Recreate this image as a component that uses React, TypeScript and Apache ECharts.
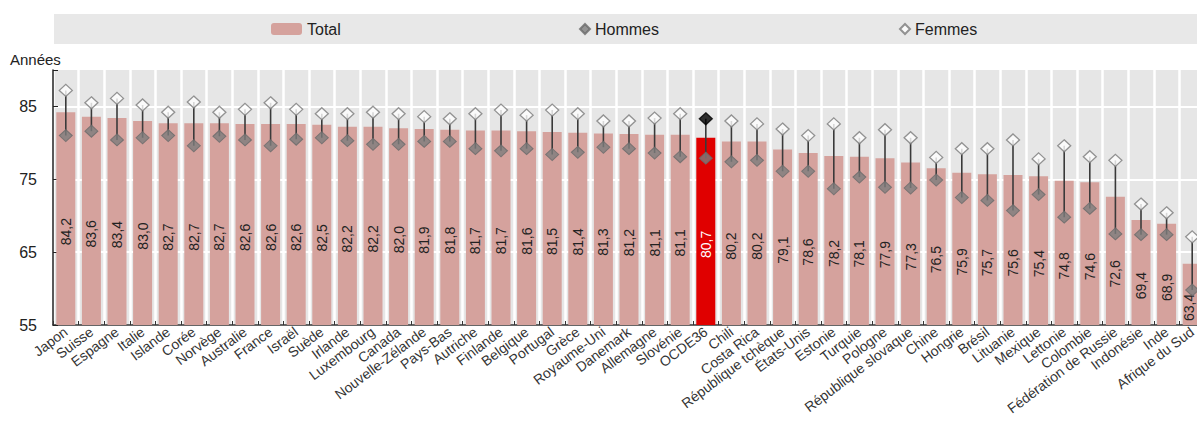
import React, { useEffect, useRef } from "react";
import * as echarts from "echarts";

const categories = [
  "Japon", "Suisse", "Espagne", "Italie", "Islande", "Corée", "Norvège", "Australie", "France", "Israël",
  "Suède", "Irlande", "Luxembourg", "Canada", "Nouvelle-Zélande", "Pays-Bas", "Autriche", "Finlande", "Belgique", "Portugal",
  "Grèce", "Royaume-Uni", "Danemark", "Allemagne", "Slovénie", "OCDE36", "Chili", "Costa Rica", "République tchèque", "États-Unis",
  "Estonie", "Turquie", "Pologne", "République slovaque", "Chine", "Hongrie", "Brésil", "Lituanie", "Mexique", "Lettonie",
  "Colombie", "Fédération de Russie", "Indonésie", "Inde", "Afrique du Sud",
];

const total = [
  84.2, 83.6, 83.4, 83.0, 82.7, 82.7, 82.7, 82.6, 82.6, 82.6,
  82.5, 82.2, 82.2, 82.0, 81.9, 81.8, 81.7, 81.7, 81.6, 81.5,
  81.4, 81.3, 81.2, 81.1, 81.1, 80.7, 80.2, 80.2, 79.1, 78.6,
  78.2, 78.1, 77.9, 77.3, 76.5, 75.9, 75.7, 75.6, 75.4, 74.8,
  74.6, 72.6, 69.4, 68.9, 63.4,
];

const hommes = [
  81.0, 81.6, 80.4, 80.7, 81.0, 79.6, 80.9, 80.4, 79.6, 80.5,
  80.7, 80.3, 79.8, 79.8, 80.2, 80.2, 79.2, 78.9, 79.2, 78.4,
  78.7, 79.4, 79.2, 78.6, 78.1, 77.9, 77.4, 77.6, 76.1, 76.1,
  73.7, 75.3, 73.9, 73.8, 74.9, 72.5, 72.1, 70.7, 72.9, 69.8,
  71.0, 67.5, 67.4, 67.4, 59.8,
];

const femmes = [
  87.2, 85.5, 86.1, 85.2, 84.2, 85.6, 84.2, 84.6, 85.5, 84.6,
  84.0, 84.0, 84.2, 84.0, 83.6, 83.3, 84.0, 84.5, 83.8, 84.5,
  84.0, 83.0, 83.0, 83.4, 84.0, 83.3, 83.0, 82.6, 81.9, 81.0,
  82.6, 80.7, 81.8, 80.7, 78.0, 79.2, 79.2, 80.4, 77.8, 79.6,
  78.1, 77.6, 71.6, 70.4, 67.1,
];

const highlight = "OCDE36";
const yTicks = [55, 65, 75, 85];

const FONT = "'Liberation Sans', Arial, Helvetica, sans-serif";

export default function App() {
  const ref = useRef<HTMLDivElement>(null);

  useEffect(() => {
    document.body.style.margin = "0";
    if (!ref.current) return;
    const chart = echarts.init(ref.current, undefined, { renderer: "svg" });

    const lastIndex = total.length - 1;
    const barData = total.map((v, i) => {
      if (categories[i] === highlight) {
        return { value: v, itemStyle: { color: "#e00000" }, label: { color: "#ffffff" } };
      }
      if (i === lastIndex) {
        return { value: v, label: { offset: [-13, -3] } };
      }
      return { value: v };
    });
    const femData = femmes.map((v, i) =>
      categories[i] === highlight
        ? { value: v, itemStyle: { color: "#000000", borderColor: "#000000" } }
        : { value: v }
    );
    const rangeData = categories.map((_, i) => [i, hommes[i], femmes[i]]);

    const legendText = { fontSize: 16, color: "#222", fontFamily: FONT };

    chart.setOption({
      animation: false,
      textStyle: { fontFamily: FONT },
      graphic: [
        {
          type: "rect",
          z: 0,
          shape: { x: 54, y: 14, width: 1143, height: 30 },
          style: { fill: "#e8e8e8" },
        },
        {
          type: "text",
          left: 10,
          top: 52,
          style: { text: "Années", fontSize: 15, fill: "#222", fontFamily: FONT },
        },
      ],
      legend: [
        {
          data: ["Total"], left: 271, top: 21, padding: 0,
          itemWidth: 31, itemHeight: 12, textStyle: legendText,
        },
        {
          data: ["Hommes"], left: 579, top: 21, padding: 0,
          itemWidth: 10, itemHeight: 10, textStyle: legendText,
        },
        {
          data: ["Femmes"], left: 899, top: 21, padding: 0,
          itemWidth: 10, itemHeight: 10, textStyle: legendText,
        },
      ],
      grid: {
        left: 53, right: -8, top: 70, bottom: 97,
        containLabel: false,
        outerBoundsMode: "none",
        show: true, backgroundColor: "#e6e6e6", borderWidth: 0,
      },
      xAxis: {
        type: "category",
        data: categories,
        boundaryGap: true,
        axisLine: { show: true, lineStyle: { color: "#333", width: 1.5 } },
        axisTick: { show: true, inside: true, length: 4, alignWithLabel: false, lineStyle: { color: "#333" } },
        splitLine: { show: true, lineStyle: { color: "#ffffff", width: 2.5 } },
        axisLabel: {
          interval: 0, rotate: 37, fontSize: 14, color: "#333", margin: 5, fontFamily: FONT,
        },
      },
      yAxis: {
        type: "value",
        min: 55,
        max: 90,
        interval: 10,
        axisLine: { show: true, lineStyle: { color: "#222", width: 1.5 } },
        axisTick: { show: true, inside: true, length: 5, lineStyle: { color: "#222" } },
        axisLabel: {
          fontSize: 16, color: "#222", margin: 16, fontFamily: FONT,
          formatter: (v: number) => (yTicks.includes(v) ? String(v) : ""),
        },
        splitLine: {
          show: true,
          lineStyle: { color: ["transparent", "#ffffff", "#ffffff", "#ffffff", "transparent"], width: 2 },
        },
      },
      series: [
        {
          name: "Total",
          type: "bar",
          data: barData,
          barWidth: 19,
          itemStyle: { color: "#d5a29d" },
          label: {
            show: true,
            position: "inside",
            rotate: 90,
            offset: [-13, 0],
            fontSize: 14,
            color: "#222",
            fontFamily: FONT,
            formatter: (p: any) => Number(p.value).toFixed(1).replace(".", ","),
          },
          z: 2,
        },
        {
          name: "range",
          type: "custom",
          data: rangeData,
          encode: { x: 0, y: [1, 2] },
          renderItem: (params: any, api: any) => {
            const x = api.value(0);
            const p1 = api.coord([x, api.value(1)]);
            const p2 = api.coord([x, api.value(2)]);
            return {
              type: "line",
              shape: { x1: p1[0], y1: p1[1], x2: p2[0], y2: p2[1] },
              style: { stroke: "#3a3a3a", lineWidth: 1.6 },
            };
          },
          z: 3,
          silent: true,
        },
        {
          name: "Hommes",
          type: "scatter",
          data: hommes,
          symbol: "diamond",
          symbolSize: [13, 12],
          itemStyle: { color: "#7d7d7d", borderColor: "#6a6a6a", borderWidth: 1 },
          z: 4,
        },
        {
          name: "Femmes",
          type: "scatter",
          data: femData,
          symbol: "diamond",
          symbolSize: [13, 12],
          itemStyle: { color: "#ffffff", borderColor: "#7a7a7a", borderWidth: 1.3 },
          z: 5,
        },
      ],
    });

    return () => chart.dispose();
  }, []);

  return <div ref={ref} style={{ width: 1197, height: 422 }} />;
}
